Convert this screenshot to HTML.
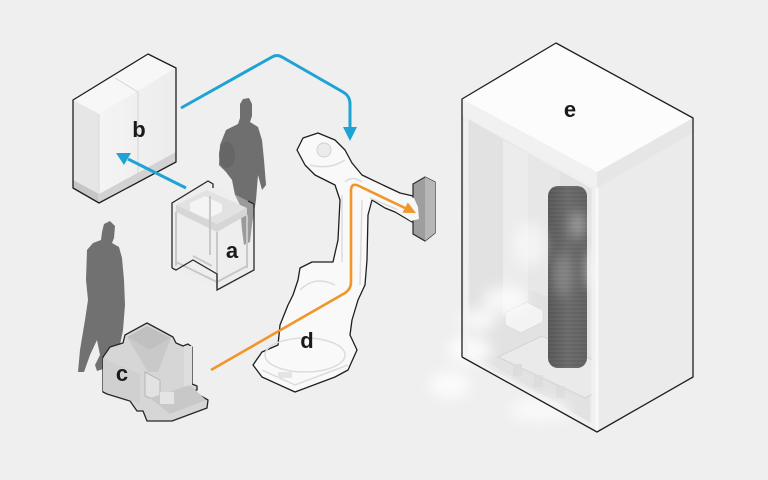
<!DOCTYPE html>
<html><head><meta charset="utf-8"><style>
html,body{margin:0;padding:0;background:#efefef;}
svg{display:block;}
text{font-family:"Liberation Sans",Arial,sans-serif;font-weight:bold;font-size:22px;fill:#1a1a1a;}
</style></head><body>
<svg width="768" height="480" viewBox="0 0 768 480" xmlns="http://www.w3.org/2000/svg">
<defs>
<filter id="blur" x="-50%" y="-50%" width="200%" height="200%"><feGaussianBlur stdDeviation="6"/></filter>
<linearGradient id="col" x1="0" x2="1" y1="0" y2="0"><stop offset="0" stop-color="#5c5c5c"/><stop offset="0.5" stop-color="#6e6e6e"/><stop offset="1" stop-color="#646464"/></linearGradient>
<linearGradient id="bfront" x1="0" x2="1"><stop offset="0" stop-color="#f4f4f4"/><stop offset="1" stop-color="#ececec"/></linearGradient>
<linearGradient id="efront" x1="0" y1="0" x2="0" y2="1"><stop offset="0" stop-color="#dedede"/><stop offset="1" stop-color="#ebebeb"/></linearGradient>
<pattern id="rib" width="4" height="4" patternUnits="userSpaceOnUse"><rect width="4" height="2" fill="#000" opacity="0.06"/></pattern>
</defs>
<rect width="768" height="480" fill="#efefef"/>

<!-- Cabinet b -->
<polygon points="73,100 148,54 176,68 99,114" fill="#f7f7f7"/>
<polygon points="73,100 99,114 99,203 73,188" fill="#e6e6e6"/>
<polygon points="99,114 176,68 176,162 99,203" fill="url(#bfront)"/>
<polygon points="73,180 99,194 99,203 73,188" fill="#c6c6c6"/>
<polygon points="99,194 176,152 176,162 99,203" fill="#d2d2d2"/>
<polyline points="115,78 138,92 138,176" fill="none" stroke="#d4d4d4" stroke-width="1"/>
<line x1="99" y1="114" x2="99" y2="203" stroke="#dadada" stroke-width="1"/>
<polygon points="73,100 148,54 176,68 176,162 99,203 73,188" fill="none" stroke="#1e1e1e" stroke-width="1.3" stroke-linejoin="round"/>
<text x="139" y="137" text-anchor="middle">b</text>

<!-- Person 1 -->
<polygon points="243,99 249,98 252,104 252,116 250,122 258,127 262,140 264,160 266,185 262,190 258,175 256,200 252,225 250,242 244,245 242,230 240,205 235,195 232,180 226,172 219,165 220,145 226,130 238,124 240,118 240,104" fill="#6f6f6f"/>
<ellipse cx="227" cy="155" rx="8" ry="13" fill="#666"/>

<!-- Table a -->
<polygon points="172,203 208,181 254,204 254,270 217,290 172,268" fill="#efefef" fill-opacity="0.35"/>
<polygon points="176,205 207,190 247,208 217,224" fill="#e2e2e2"/>
<polygon points="176,205 217,224 247,208 247,215 217,232 176,212" fill="#d6d6d6"/>
<polygon points="190,203 205,196 222,204 222,212 207,219 190,211" fill="#f4f4f4"/>
<g stroke="#c8c8c8" stroke-width="2" fill="none">
<line x1="217" y1="232" x2="217" y2="288"/>
<line x1="176" y1="212" x2="176" y2="266"/>
<line x1="247" y1="215" x2="247" y2="268"/>
<line x1="210" y1="196" x2="210" y2="255"/>
<polyline points="176,262 217,282 247,266"/>
<line x1="193" y1="256" x2="212" y2="266"/>
</g>
<polyline points="172,268 172,203 208,181 213,184 213,188" fill="none" stroke="#2a2a2a" stroke-width="1.3"/>
<polyline points="248,201 254,204 254,270 217,290 217,274 193,260 176,270 172,268" fill="none" stroke="#2a2a2a" stroke-width="1.3"/>
<text x="232" y="258" text-anchor="middle">a</text>

<!-- Person 2 -->
<polygon points="104,224 110,221 115,226 114,238 112,243 119,247 122,258 124,280 125,305 123,330 120,345 112,350 108,360 106,368 97,371 95,365 100,355 97,340 90,355 84,372 78,372 80,350 85,320 88,300 86,280 87,250 93,243 101,240 102,232" fill="#717171"/>

<!-- Machine c -->
<polygon points="123,343 125,335 147,323 173,337 176,343 183,346 188,344 192,347 192,384 197,386 197,390 192,391 208,400 207,408 172,421 147,421 143,411 137,411 130,401 107,394 103,392 103,357 110,347" fill="#d6d6d6" stroke="#262626" stroke-width="1.3" stroke-linejoin="round"/>
<polygon points="127,337 147,326 171,338 150,350" fill="#c0c0c0"/>
<polygon points="127,337 150,350 171,338 158,372 148,372" fill="#c9c9c9"/>
<polygon points="103,358 140,374 140,404 103,391" fill="#d0d0d0"/>
<polygon points="145,372 160,380 160,402 145,396" fill="#e2e2e2" stroke="#b5b5b5"/>
<rect x="184" y="346" width="8" height="40" fill="#dedede"/>
<polygon points="150,398 190,385 206,400 170,414" fill="#c8c8c8"/>
<rect x="160" y="392" width="14" height="12" fill="#e4e4e4"/>
<text x="122" y="381" text-anchor="middle">c</text>

<!-- Blue arrows -->
<path d="M181,108 L272,57 Q277,54 282,57 L343,92 Q350,96 350,104 L350,128" fill="none" stroke="#1fa3d5" stroke-width="3"/>
<polygon points="343,127 357,127 350,141" fill="#1fa3d5"/>
<line x1="186" y1="188" x2="128" y2="159" stroke="#1fa3d5" stroke-width="3"/>
<polygon points="116,153 131,153 124,165" fill="#1fa3d5"/>

<!-- Robot d -->
<polygon points="297,150 303,138 318,133 335,140 345,150 352,163 362,175 385,186 400,193 413,196 418,205 420,220 412,222 395,212 385,208 372,200 368,215 367,260 365,285 358,300 352,320 350,335 357,350 348,370 335,377 295,392 262,377 253,365 262,352 278,345 280,325 288,305 293,295 298,280 300,268 312,262 333,262 338,240 340,200 335,185 315,175 305,165" fill="#f9f9f9" stroke="#1e1e1e" stroke-width="1.3" stroke-linejoin="round"/>
<circle cx="324" cy="150" r="7" fill="#ececec" stroke="#d0d0d0"/>
<g stroke="#dcdcdc" stroke-width="1.5" fill="none">
<path d="M342,195 L342,262"/>
<path d="M362,200 L360,285"/>
<path d="M345,182 Q352,175 362,182"/>
<path d="M370,198 L408,214"/>
<path d="M300,290 Q315,275 335,285"/>
<path d="M310,165 Q330,170 345,160"/>
<ellipse cx="305" cy="355" rx="40" ry="17"/>
<path d="M262,370 L295,385 L348,365"/>
</g>
<rect x="278" y="372" width="14" height="6" fill="#e4e4e4"/>
<!-- end plate -->
<polygon points="413,184 425,177 435,182 435,233 425,241 413,234" fill="#9e9e9e" stroke="#2a2a2a" stroke-width="1.2"/>
<polygon points="425,177 435,182 435,233 425,241" fill="#b6b6b6"/>
<polygon points="400,195 414,198 418,207 419,219 411,221 397,212" fill="#f7f7f7"/>
<text x="307" y="348" text-anchor="middle">d</text>

<!-- Orange path -->
<path d="M211,370 L345,293 Q351,289 351,282 L351,191 Q351,182 359,186 L405,208" fill="none" stroke="#f0962a" stroke-width="2.6"/>
<polygon points="416,213 402.5,212.8 407.8,202.5" fill="#f0962a"/>

<!-- Cabinet e -->
<polygon points="462,99 597,172 597,432 462,357" fill="url(#efront)"/>
<polygon points="470,120 590,186 590,422 470,352" fill="#e2e2e2"/>
<polygon points="503,140 528,153 528,330 503,316" fill="#ececec"/>
<polygon points="528,153 560,170 560,300 528,290" fill="#e7e7e7"/>
<polygon points="498,357 542,336 597,362 597,392 585,398" fill="#eaeaea" stroke="#d3d3d3"/>
<g fill="#dcdcdc"><rect x="513" y="364" width="9" height="12"/><rect x="534" y="375" width="9" height="12"/><rect x="556" y="386" width="9" height="12"/></g>
<polygon points="505,313 527,302 543,310 543,322 521,333 505,325" fill="#f3f3f3" stroke="#dcdcdc"/>
<rect x="548" y="186" width="39" height="182" rx="10" fill="url(#col)"/>
<rect x="548" y="186" width="39" height="182" rx="10" fill="url(#rib)"/>
<g filter="url(#blur)" fill="#fff">
<ellipse cx="578" cy="225" rx="8" ry="14" opacity="0.35"/>
<ellipse cx="562" cy="275" rx="10" ry="22" opacity="0.2"/>
<ellipse cx="530" cy="245" rx="16" ry="22" opacity="0.5"/>
<ellipse cx="505" cy="300" rx="22" ry="14" opacity="0.7"/>
<ellipse cx="478" cy="320" rx="18" ry="12" opacity="0.7"/>
<ellipse cx="470" cy="350" rx="22" ry="14" opacity="0.8"/>
<ellipse cx="450" cy="385" rx="20" ry="14" opacity="0.7"/>
<ellipse cx="540" cy="410" rx="30" ry="12" opacity="0.6"/>
<ellipse cx="592" cy="270" rx="6" ry="20" opacity="0.5"/>
</g>
<polygon points="466,115 594,187 594,428 466,358" fill="none" stroke="#f2f2f2" stroke-width="5" stroke-opacity="0.8"/>
<polygon points="597,188 693,133 693,377 597,432" fill="#ebebeb"/>
<polygon points="597,172 693,118 693,133 597,188" fill="#e6e6e6"/>
<polygon points="462,99 597,172 597,188 462,115" fill="#f1f1f1"/>
<polygon points="462,99 556,43 693,118 597,172" fill="#fcfcfc"/>
<line x1="597" y1="188" x2="597" y2="432" stroke="#f8f8f8" stroke-width="3"/>
<polyline points="462,357 462,99 556,43 693,118 693,377 597,432 462,357" fill="none" stroke="#1e1e1e" stroke-width="1.3" stroke-linejoin="round"/>
<text x="570" y="117" text-anchor="middle">e</text>
</svg>
</body></html>
